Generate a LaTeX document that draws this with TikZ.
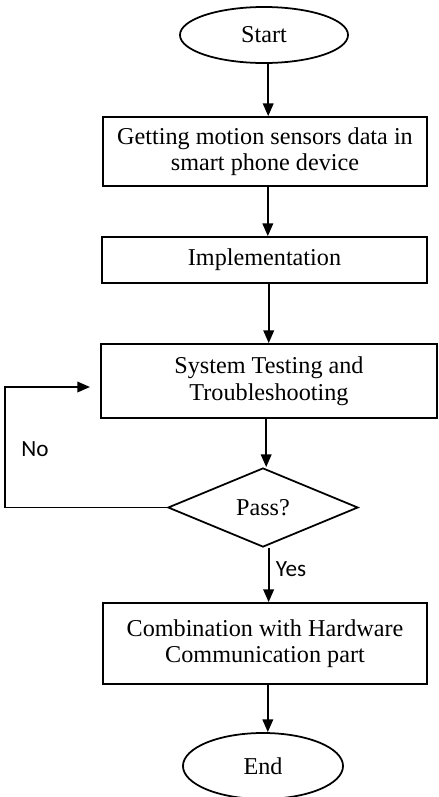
\documentclass[tikz,border=0pt]{standalone}
\usepackage{fontspec}
\setmainfont{Liberation Serif}
\newfontfamily\labelfont{Carlito}
\usetikzlibrary{shapes.geometric,arrows.meta}

\begin{document}
\begin{tikzpicture}[x=0.025cm, y=-0.025cm, line width=1.25pt,
  font=\fontsize{17.2}{18.8}\selectfont,
  term/.style={draw, ellipse, inner sep=0pt},
  stepbox/.style={draw, rectangle, inner sep=0pt, align=center},
  check/.style={draw, diamond, aspect=2.4, inner sep=0pt, minimum width=4.75cm, minimum height=1.975cm},
  flow/.style={-{Triangle[length=9pt,width=7.5pt]}},
  answer/.style={font=\labelfont\fontsize{16.5}{18}\selectfont}]
  \useasboundingbox (0,0) rectangle (439,797);
  % terminals and steps
  \node[term, minimum width=4.2cm, minimum height=1.4cm] (start) at (264,35) {Start};
  \node[stepbox, minimum width=8.1cm, minimum height=1.725cm] (sense) at (265,151.5)
    {Getting motion sensors data in\\smart phone device};
  \node[stepbox, minimum width=8.125cm, minimum height=1.15cm] (impl) at (264.5,260) {Implementation};
  \node[stepbox, minimum width=8.4cm, minimum height=1.85cm] (test) at (269,381)
    {System Testing and\\Troubleshooting};
  \node[check] (pass) at (263,507.5) {Pass?};
  \node[stepbox, minimum width=8.1cm, minimum height=2.025cm] (combine) at (265,643.5)
    {Combination with Hardware\\Communication part};
  \node[term, minimum width=4.0cm, minimum height=1.65cm] (end) at (263,766) {End};
  % answers
  \node[answer] (no) at (35,449) {No};
  \node[answer] (yes) at (291,569) {Yes};
  % connectors
  \coordinate (noleft) at (5,507.5);
  \coordinate (noend) at (90,387);
  \draw[flow] ([xshift=3]start.south) -- ([xshift=3]start.south |- sense.north);
  \draw[flow] ([xshift=2]sense.south) -- ([xshift=2]sense.south |- impl.north);
  \draw[flow] ([xshift=3]impl.south) -- ([xshift=3]impl.south |- test.north);
  \draw[flow] ([xshift=-2]test.south) -- ([xshift=-2]test.south |- pass.north);
  \draw[flow] ([xshift=4]pass.south) -- ([xshift=4]pass.south |- combine.north);
  \draw[flow] ([xshift=2]combine.south) -- ([xshift=2]combine.south |- end.north);
  \draw[flow] (pass.west) -- (noleft) |- (noend);
\end{tikzpicture}
\end{document}
